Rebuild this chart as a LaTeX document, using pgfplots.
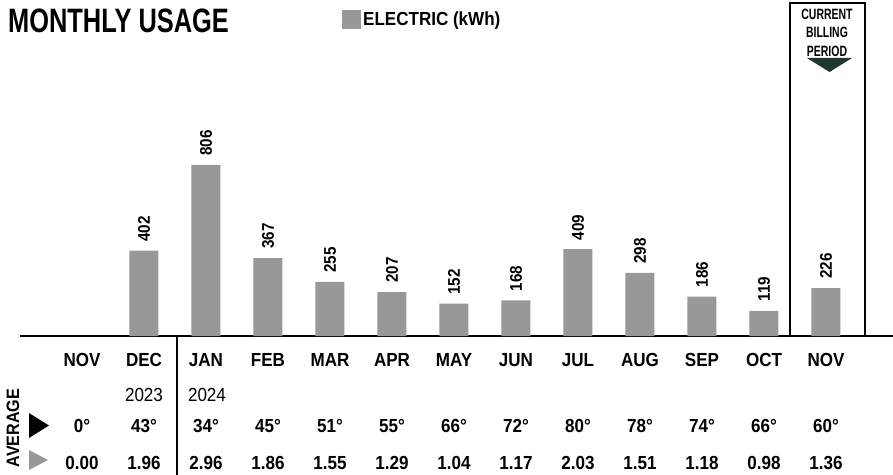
\documentclass[border=0pt]{standalone}
\usepackage{fontspec}
\setmainfont{Liberation Sans}[FakeStretch=0.9]
\newfontfamily\titlefont{Liberation Sans}[FakeStretch=0.75]
\newfontfamily\narrowfont{Liberation Sans}[FakeStretch=0.7]
\usepackage{pgfplots}
\pgfplotsset{compat=1.18}
\definecolor{barcol}{RGB}{152,152,152}
\definecolor{arrowgreen}{RGB}{30,56,48}
\begin{document}
\begin{tikzpicture}
\path[use as bounding box] (-20bp,-139bp) rectangle (873bp,336bp);
\begin{axis}[
  at={(0,0)}, anchor=south west,
  scale only axis, width=873bp, height=331bp,
  xmin=-1, xmax=13.081, ymin=0, ymax=1560,
  axis x line*=bottom, axis y line=none,
  axis line style={line width=2.5bp,-},
  xtick={0,...,12}, major tick length=0pt,
  xticklabels={NOV,DEC,JAN,FEB,MAR,APR,MAY,JUN,JUL,AUG,SEP,OCT,NOV},
  xticklabel style={anchor=base, yshift=-30bp, font=\fontsize{19}{19}\selectfont\bfseries},
  clip=false,
  ybar, bar width=29bp,
  /pgf/number format/assume math mode=true,
  nodes near coords,
  every node near coord/.append style={rotate=90, anchor=west, inner sep=0pt, font=\fontsize{17}{17}\selectfont\bfseries, black},
  legend style={at={(axis description cs:0.3688,0.985)}, anchor=north west, draw=none, fill=none, inner sep=0pt, font=\fontsize{19}{19}\selectfont\bfseries},
  legend image code/.code={\fill[barcol] (0bp,-9.5bp) rectangle (19bp,9.5bp);},
]
\addplot[fill=barcol, draw=none, every node near coord/.append style={shift={(9bp,0bp)}}] coordinates {
  (1,402) (2,806) (3,367) (4,255) (5,207) (6,152) (7,168) (8,409) (9,298) (10,186) (11,119) (12,226)
};
\legend{ELECTRIC (kWh)}
\end{axis}
% title
\node[anchor=base west, inner sep=0pt, font=\titlefont\fontsize{34}{34}\selectfont\bfseries] at (-12bp,303bp) {MONTHLY USAGE};
% current billing period box
\draw[line width=2bp] (770bp,0bp) -- (770bp,333bp) -- (845bp,333bp) -- (845bp,0bp);
\node[anchor=base, inner sep=0pt, font=\narrowfont\fontsize{15}{15}\selectfont\bfseries] at (807bp,316bp) {CURRENT};
\node[anchor=base, inner sep=0pt, font=\narrowfont\fontsize{15}{15}\selectfont\bfseries] at (807bp,298bp) {BILLING};
\node[anchor=base, inner sep=0pt, font=\narrowfont\fontsize{15}{15}\selectfont\bfseries] at (807bp,279bp) {PERIOD};
\fill[arrowgreen] (787bp,278bp) -- (832bp,278bp) -- (809.5bp,264bp) -- cycle;
% separator between years
\draw[line width=2bp] (157bp,0bp) -- (157bp,-139bp);
% AVERAGE label and triangles
\node[rotate=90, anchor=center, inner sep=0pt, font=\fontsize{18}{18}\selectfont\bfseries] at (-7bp,-92bp) {AVERAGE};
\fill[black] (9bp,-77bp) -- (29bp,-89.5bp) -- (9bp,-102bp) -- cycle;
\fill[barcol] (9bp,-114bp) -- (28bp,-124bp) -- (9bp,-134bp) -- cycle;
% years
\node[anchor=base, font=\fontsize{19}{19}\selectfont] at (124bp,-65bp) {2023};
\node[anchor=base, font=\fontsize{19}{19}\selectfont] at (187bp,-65bp) {2024};
% temperatures
\foreach \t [count=\i from 1] in {0,43,34,45,51,55,66,72,80,78,74,66,60}{
  \node[anchor=base, font=\fontsize{19}{19}\selectfont\bfseries] at ({62*\i*1bp},-96bp) {\t°};
}
% prices
\foreach \p [count=\i from 1] in {0.00,1.96,2.96,1.86,1.55,1.29,1.04,1.17,2.03,1.51,1.18,0.98,1.36}{
  \node[anchor=base, font=\fontsize{19}{19}\selectfont\bfseries] at ({62*\i*1bp},-133bp) {\p};
}
\end{tikzpicture}
\end{document}
